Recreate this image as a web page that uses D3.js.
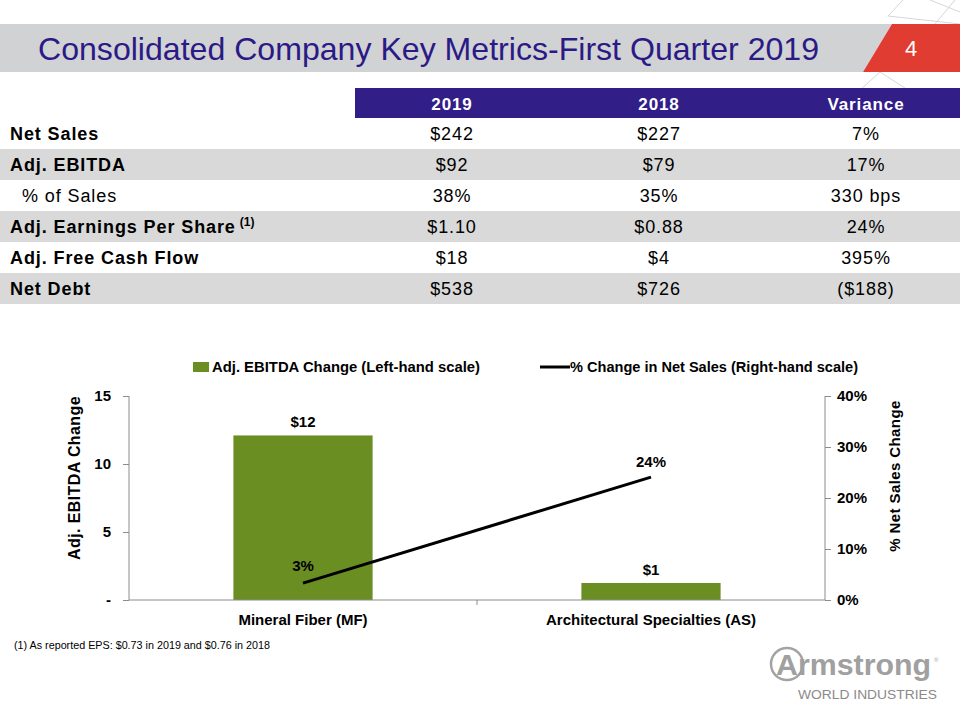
<!DOCTYPE html>
<html>
<head>
<meta charset="utf-8">
<script src="https://cdn.jsdelivr.net/npm/d3@7"></script>
<style>
  html, body { margin: 0; padding: 0; background: #fff; }
  svg { display: block; font-family: "Liberation Sans", Arial, sans-serif; }
</style>
</head>
<body>
<svg id="chart" width="960" height="720"></svg>
<script>
// ---------- DATA ----------
const titleText = "Consolidated  Company Key Metrics-First Quarter 2019";
const pageNumber = "4";

const tableColumns = ["2019", "2018", "Variance"];
const rowLabels = ["Net Sales", "Adj. EBITDA", "% of Sales", "Adj. Earnings Per Share", "Adj. Free Cash Flow", "Net Debt"];
const rowSuperscripts = ["", "", "", "(1)", "", ""];
const values2019 = ["$242", "$92", "38%", "$1.10", "$18", "$538"];
const values2018 = ["$227", "$79", "35%", "$0.88", "$4", "$726"];
const variance = ["7%", "17%", "330 bps", "24%", "395%", "($188)"];

const categories = ["Mineral Fiber (MF)", "Architectural Specialties (AS)"];
const ebitdaChange = [12.1, 1.25];
const ebitdaLabels = ["$12", "$1"];
const salesChange = [3.3, 24.1];
const salesLabels = ["3%", "24%"];
const leftTicks = [0, 5, 10, 15];
const leftTickLabels = ["-", "5", "10", "15"];
const rightTicks = [0, 10, 20, 30, 40];
const legendLabels = ["Adj. EBITDA Change (Left-hand scale)", "% Change in Net Sales (Right-hand scale)"];
const axisTitles = ["Adj. EBITDA Change", "% Net Sales Change"];
const footnote = "(1) As reported EPS:  $0.73 in 2019 and $0.76 in 2018";

// ---------- STYLE ----------
const purple = "#321e87";
const titleColor = "#2b1a86";
const red = "#e03c31";
const bandGray = "#d1d2d4";
const rowGray = "#d9d9d9";
const green = "#6b8e23";

const svg = d3.select("#chart");

// ---------- Decorative lines ----------
const deco = svg.append("g").attr("stroke", "#d6d6d6").attr("stroke-width", 1).attr("fill", "none");
[[[903,0],[888,16]],[[888,16],[960,24]],[[930,0],[960,12]],[[955,0],[935,24]],
 [[880,72],[860,90]],[[880,72],[905,88]],[[940,72],[960,60]]].forEach(l => {
  deco.append("line").attr("x1", l[0][0]).attr("y1", l[0][1]).attr("x2", l[1][0]).attr("y2", l[1][1]);
});

// ---------- Header band ----------
svg.append("polygon").attr("points", "0,24 892,24 863,72 0,72").attr("fill", bandGray);
svg.append("polygon").attr("points", "892,24 960,24 960,72 863,72").attr("fill", red);
svg.append("text").attr("x", 38).attr("y", 60)
  .attr("font-family", "'Liberation Sans Narrow', 'Liberation Sans', Arial, sans-serif")
  .attr("font-size", 32).attr("fill", titleColor)
  .attr("textLength", 781).attr("lengthAdjust", "spacingAndGlyphs")
  .text(titleText);
svg.append("text").attr("x", 911).attr("y", 56).attr("text-anchor", "middle")
  .attr("font-family", "'Liberation Sans Narrow', 'Liberation Sans', Arial, sans-serif")
  .attr("font-size", 22).attr("fill", "#fff").text(pageNumber);

// ---------- Table ----------
const tableTop = 88, headerH = 30, rowH = 31;
const colX = d3.scaleOrdinal().domain(tableColumns).range([452, 659, 866]);
svg.append("rect").attr("x", 355).attr("y", tableTop).attr("width", 605).attr("height", headerH).attr("fill", purple);
svg.selectAll("text.colhead").data(tableColumns).join("text").attr("class", "colhead")
  .attr("x", d => colX(d)).attr("y", tableTop + 22).attr("text-anchor", "middle")
  .attr("font-size", 17).attr("font-weight", "bold").attr("letter-spacing", 0.9).attr("fill", "#fff").text(d => d);

const rowY = i => tableTop + headerH + i * rowH;
const rows = svg.selectAll("g.row").data(rowLabels).join("g").attr("class", "row")
  .attr("transform", (d, i) => `translate(0,${rowY(i)})`);
rows.append("rect").attr("x", 0).attr("y", 0).attr("width", 960).attr("height", rowH)
  .attr("fill", (d, i) => i % 2 === 1 ? rowGray : "none");
rows.append("text").attr("x", (d, i) => i === 2 ? 22 : 10).attr("y", 22)
  .attr("font-size", 18).attr("letter-spacing", 0.9)
  .attr("font-weight", (d, i) => i === 2 ? "normal" : "bold").attr("fill", "#000")
  .each(function (d, i) {
    const t = d3.select(this);
    t.append("tspan").text(d);
    if (rowSuperscripts[i]) {
      t.append("tspan").attr("font-size", 12).attr("dy", -7).attr("dx", 4).attr("letter-spacing", 0).text(rowSuperscripts[i]);
    }
  });
const cellData = (i) => [values2019[i], values2018[i], variance[i]];
rows.each(function (d, i) {
  d3.select(this).selectAll("text.cell").data(cellData(i)).join("text").attr("class", "cell")
    .attr("x", (v, j) => colX(tableColumns[j])).attr("y", 22).attr("text-anchor", "middle")
    .attr("font-size", 18).attr("letter-spacing", 0.9).attr("fill", "#000").text(v => v);
});

// ---------- Chart ----------
const plotLeft = 129, plotRight = 825, plotTop = 396, plotBottom = 600;
const x = d3.scaleBand().domain(categories).range([plotLeft, plotRight]).paddingInner(0.6).paddingOuter(0.3);
const xStep = d3.scaleBand().domain(categories).range([plotLeft, plotRight]);
const yL = d3.scaleLinear().domain([0, 15]).range([plotBottom, plotTop]);
const yR = d3.scaleLinear().domain([0, 40]).range([plotBottom, plotTop]);
const axisColor = "#8c8c8c";

// left axis
const gL = svg.append("g").attr("transform", `translate(${plotLeft},0)`)
  .call(d3.axisLeft(yL).tickValues(leftTicks).tickSize(6).tickPadding(12)
    .tickFormat((d, i) => leftTickLabels[i]));
// right axis
const gR = svg.append("g").attr("transform", `translate(${plotRight},0)`)
  .call(d3.axisRight(yR).tickValues(rightTicks).tickSize(6).tickPadding(6)
    .tickFormat(d => d + "%"));
[gL, gR].forEach(g => {
  g.select(".domain").attr("stroke", axisColor).attr("d", `M0,${plotTop}V${plotBottom}`);
  g.selectAll(".tick line").attr("stroke", axisColor);
  g.selectAll(".tick text").attr("font-size", 15).attr("font-weight", "bold").attr("fill", "#000")
    .attr("font-family", "'Liberation Sans', Arial, sans-serif");
});

// bars
svg.selectAll("rect.bar").data(categories).join("rect").attr("class", "bar")
  .attr("x", d => x(d)).attr("width", x.bandwidth())
  .attr("y", (d, i) => yL(ebitdaChange[i])).attr("height", (d, i) => plotBottom - yL(ebitdaChange[i]))
  .attr("fill", green);

// x axis baseline
const gX = svg.append("g").attr("transform", `translate(0,${plotBottom})`)
  .call(d3.axisBottom(xStep).tickSize(0).tickPadding(14));
gX.select(".domain").attr("stroke", axisColor).attr("d", `M${plotLeft},0H${plotRight}`);
gX.selectAll(".tick text").attr("font-size", 15).attr("font-weight", "bold").attr("fill", "#000")
  .attr("font-family", "'Liberation Sans', Arial, sans-serif");
// category separator tick
svg.append("line").attr("x1", xStep(categories[1])).attr("x2", xStep(categories[1]))
  .attr("y1", plotBottom).attr("y2", plotBottom + 5).attr("stroke", axisColor);

// bar labels
svg.selectAll("text.barlabel").data(categories).join("text").attr("class", "barlabel")
  .attr("x", d => x(d) + x.bandwidth() / 2).attr("y", (d, i) => yL(ebitdaChange[i]) - 8)
  .attr("text-anchor", "middle").attr("font-size", 15).attr("font-weight", "bold").text((d, i) => ebitdaLabels[i]);

// line
const cx = d => xStep(d) + xStep.bandwidth() / 2;
const line = d3.line().x(d => cx(d)).y((d, i) => yR(salesChange[i]));
svg.append("path").datum(categories).attr("d", line).attr("fill", "none").attr("stroke", "#000").attr("stroke-width", 3);
svg.selectAll("text.linelabel").data(categories).join("text").attr("class", "linelabel")
  .attr("x", d => cx(d)).attr("y", (d, i) => yR(salesChange[i]) - (i === 0 ? 12 : 10))
  .attr("text-anchor", "middle").attr("font-size", 15).attr("font-weight", "bold").text((d, i) => salesLabels[i]);

// axis titles
svg.append("text").attr("transform", `translate(80,${(plotTop + plotBottom) / 2 - 20}) rotate(-90)`)
  .attr("text-anchor", "middle").attr("font-size", 16).attr("font-weight", "bold").attr("letter-spacing", 0.4)
  .text(axisTitles[0]);
svg.append("text").attr("transform", `translate(900,${(plotTop + plotBottom) / 2 - 22}) rotate(-90)`)
  .attr("text-anchor", "middle").attr("font-size", 15).attr("font-weight", "bold").attr("letter-spacing", 0.4)
  .text(axisTitles[1]);

// legend
const lg = svg.append("g");
lg.append("rect").attr("x", 193).attr("y", 362).attr("width", 16).attr("height", 10).attr("fill", green);
lg.append("text").attr("x", 212).attr("y", 372).attr("font-size", 14).attr("font-weight", "bold")
  .attr("textLength", 268).attr("lengthAdjust", "spacingAndGlyphs").text(legendLabels[0]);
lg.append("line").attr("x1", 540).attr("x2", 570).attr("y1", 367).attr("y2", 367).attr("stroke", "#000").attr("stroke-width", 3);
lg.append("text").attr("x", 570).attr("y", 372).attr("font-size", 14).attr("font-weight", "bold")
  .attr("textLength", 288).attr("lengthAdjust", "spacingAndGlyphs").text(legendLabels[1]);

// footnote
svg.append("text").attr("x", 14).attr("y", 649).attr("font-size", 11).attr("fill", "#000")
  .attr("textLength", 256).attr("lengthAdjust", "spacingAndGlyphs").text(footnote);

// ---------- Logo ----------
const logo = svg.append("g");
logo.append("circle").attr("cx", 787).attr("cy", 664).attr("r", 16).attr("fill", "none").attr("stroke", "#a3a3a3").attr("stroke-width", 2.5);
logo.append("text").attr("x", 776).attr("y", 675).attr("font-size", 30).attr("font-weight", "bold").attr("fill", "#a0a0a0")
  .attr("textLength", 155).attr("lengthAdjust", "spacingAndGlyphs").text("Armstrong");
logo.append("text").attr("x", 934).attr("y", 662).attr("font-size", 6).attr("fill", "#a0a0a0").text("®");
logo.append("text").attr("x", 798).attr("y", 699).attr("font-size", 13).attr("fill", "#8a8a8a")
  .attr("textLength", 139).attr("lengthAdjust", "spacingAndGlyphs").text("WORLD INDUSTRIES");
</script>
</body>
</html>
